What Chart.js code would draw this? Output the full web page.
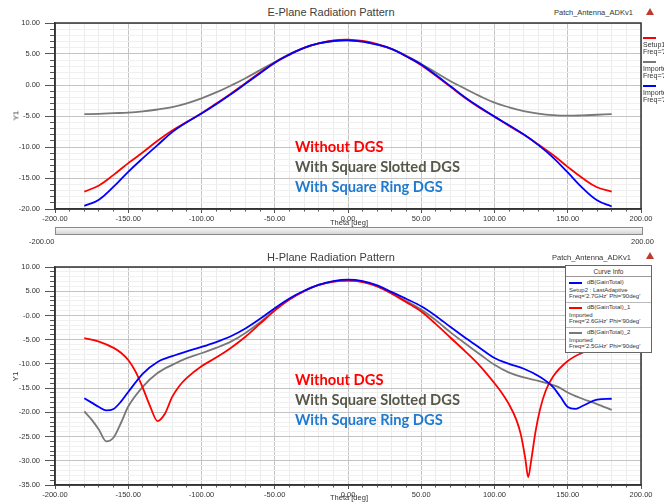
<!DOCTYPE html>
<html>
<head>
<meta charset="utf-8">
<script src="https://cdn.jsdelivr.net/npm/chart.js@4.4.0/dist/chart.umd.min.js"></script>
<style>
  body { margin: 0; width: 664px; height: 504px; overflow: hidden; background: #fff; position: relative;
         font-family: "Liberation Sans", Arial, sans-serif; color: #333; }
  .abs { position: absolute; white-space: nowrap; }
  .box { position: absolute; }
  .note { position: absolute; white-space: nowrap; font-family: Lato, "Open Sans", sans-serif; font-weight: bold;
          font-size: 14.7px; line-height: 18px; }
  .sm { position: absolute; white-space: nowrap; font-size: 6px; line-height: 7px; color: #333; }
  .cut { position: absolute; white-space: nowrap; font-size: 7px; line-height: 7px; color: #333; }
  .sw { position: absolute; height: 2px; width: 13px; }
  .logo { position: absolute; width: 0; height: 0; border-left: 4px solid transparent; border-right: 4px solid transparent;
          border-bottom: 7px solid #c0392b; }
</style>
</head>
<body>

<!-- E-plane -->
<div class="abs" style="left:231px;top:5px;width:200px;text-align:center;font-size:11px;line-height:14px;color:#404040">E-Plane Radiation Pattern</div>
<div class="abs" style="left:554px;top:8px;font-size:7.5px;line-height:9px">Patch_Antenna_ADKv1</div>
<div class="logo" style="left:646px;top:8px"></div>
<div class="box" style="left:0;top:0;width:664px;height:232px"><canvas id="cE"></canvas></div>
<div class="abs" style="left:11px;top:111px;font-size:8px;transform:rotate(-90deg)">Y1</div>
<div class="abs" style="left:299px;top:218px;width:100px;text-align:center;font-size:7.5px;line-height:9px">Theta [deg]</div>

<!-- legend cut at the right edge -->
<div class="sw" style="left:643px;top:37px;background:#ff0000"></div>
<div class="cut" style="left:643px;top:41px">Setup1 : LastAdaptive</div>
<div class="cut" style="left:643px;top:48px">Freq='2.6GHz' Phi='0deg'</div>
<div class="sw" style="left:643px;top:61px;background:#787878"></div>
<div class="cut" style="left:643px;top:65px">Imported</div>
<div class="cut" style="left:643px;top:72px">Freq='2.5GHz' Phi='0deg'</div>
<div class="sw" style="left:643px;top:85px;background:#0000ff"></div>
<div class="cut" style="left:643px;top:89px">Imported</div>
<div class="cut" style="left:643px;top:96px">Freq='2.7GHz' Phi='0deg'</div>

<div class="note" style="left:295px;top:137px;color:#ff0000">Without DGS</div>
<div class="note" style="left:295px;top:157px;color:#57574a">With Square Slotted DGS</div>
<div class="note" style="left:295px;top:177px;color:#1f7ad0">With Square Ring DGS</div>

<!-- scroll bar -->
<div class="box" style="left:55px;top:227px;width:586px;height:6px;border:1px solid #8a8a8a;background:linear-gradient(#f6f6f6,#d6d6d6)"></div>
<div class="abs" style="left:29px;top:237px;font-size:7.5px;line-height:9px">-200.00</div>
<div class="abs" style="left:631px;top:237px;font-size:7.5px;line-height:9px">200.00</div>

<!-- H-plane -->
<div class="abs" style="left:231px;top:250px;width:200px;text-align:center;font-size:11px;line-height:14px;color:#404040">H-Plane Radiation Pattern</div>
<div class="abs" style="left:552px;top:253px;font-size:7.5px;line-height:9px">Patch_Antenna_ADKv1</div>
<div class="logo" style="left:646px;top:252px"></div>
<div class="box" style="left:0;top:250px;width:664px;height:254px"><canvas id="cH"></canvas></div>
<div class="abs" style="left:11px;top:372px;font-size:8px;transform:rotate(-90deg)">Y1</div>
<div class="abs" style="left:299px;top:493px;width:100px;text-align:center;font-size:7.5px;line-height:9px">Theta [deg]</div>

<div class="box" style="left:565px;top:265px;width:85px;height:86px;border:1px solid #666;background:#fff">
  <div class="sm" style="left:0;top:2px;width:85px;text-align:center;font-size:6.5px">Curve Info</div>
  <div class="box" style="left:0;top:10px;width:85px;height:0;border-top:1px solid #999"></div>
  <div class="sw" style="left:3px;top:16px;background:#0000ff"></div>
  <div class="sm" style="left:21px;top:13px">dB(GainTotal)</div>
  <div class="sm" style="left:3px;top:21px">Setup2 : LastAdaptive</div>
  <div class="sm" style="left:3px;top:27px">Freq='2.7GHz' Phi='90deg'</div>
  <div class="box" style="left:0;top:36px;width:85px;height:0;border-top:1px solid #bbb"></div>
  <div class="sw" style="left:3px;top:41px;background:#ff0000"></div>
  <div class="sm" style="left:21px;top:38px">dB(GainTotal)_1</div>
  <div class="sm" style="left:3px;top:46px">Imported</div>
  <div class="sm" style="left:3px;top:52px">Freq='2.6GHz' Phi='90deg'</div>
  <div class="box" style="left:0;top:61px;width:85px;height:0;border-top:1px solid #bbb"></div>
  <div class="sw" style="left:3px;top:66px;background:#787878"></div>
  <div class="sm" style="left:21px;top:63px">dB(GainTotal)_2</div>
  <div class="sm" style="left:3px;top:71px">Imported</div>
  <div class="sm" style="left:3px;top:77px">Freq='2.5GHz' Phi='90deg'</div>
</div>

<div class="note" style="left:295px;top:370px;color:#ff0000">Without DGS</div>
<div class="note" style="left:295px;top:390px;color:#57574a">With Square Slotted DGS</div>
<div class="note" style="left:295px;top:410px;color:#1f7ad0">With Square Ring DGS</div>

<script>
// E-plane (Phi = 0deg)
const eTheta = [-180, -170, -160, -150, -140, -130, -120, -110, -100, -90, -80, -70, -60, -50, -40, -30, -20, -10, 0,
                10, 20, 30, 40, 50, 60, 70, 80, 90, 100, 110, 120, 130, 140, 150, 160, 170, 180];
const eWithout = [-17.2, -16.2, -14.5, -12.6, -10.85, -9.0, -7.35, -5.95, -4.55, -3.0, -1.4, 0.3, 2.0, 3.6, 4.9, 6.0, 6.7, 7.2, 7.3,
                  7.1, 6.6, 5.8, 4.6, 3.2, 1.5, -0.3, -2.1, -3.7, -5.1, -6.6, -8.0, -9.6, -11.3, -13.2, -15.0, -16.5, -17.2];
const eSlotted = [-4.7, -4.65, -4.55, -4.45, -4.25, -3.95, -3.55, -2.95, -2.15, -1.2, -0.1, 1.1, 2.4, 3.7, 5.0, 6.0, 6.7, 7.1, 7.2,
                  7.0, 6.5, 5.8, 4.7, 3.4, 2.0, 0.6, -0.6, -1.8, -2.85, -3.6, -4.2, -4.6, -4.85, -4.95, -4.9, -4.8, -4.7];
const eRing = [-19.5, -18.5, -16.4, -14.0, -11.8, -9.7, -7.6, -6.0, -4.6, -3.1, -1.5, 0.2, 1.9, 3.6, 4.9, 6.0, 6.7, 7.1, 7.2,
               7.0, 6.5, 5.8, 4.6, 3.3, 1.6, -0.2, -2.0, -3.6, -5.1, -6.5, -8.0, -9.7, -11.7, -14.1, -16.6, -18.6, -19.6];

// H-plane (Phi = 90deg)
const hTheta = [-180, -175, -170, -165, -160, -155, -150, -140, -130, -120, -110, -100, -90, -80, -70, -60, -50, -40, -30, -20, -10, 0,
                10, 20, 30, 40, 50, 60, 70, 80, 90, 100, 110, 120, 130, 140, 145, 150, 155, 160, 170, 180];
const hRing = [-17.1, -18.0, -18.9, -19.6, -19.3, -17.8, -15.8, -12.0, -9.6, -8.4, -7.4, -6.5, -5.5, -4.3, -2.7, -0.7, 1.5, 3.5, 5.1, 6.3, 7.1, 7.4,
               7.1, 6.2, 4.8, 3.4, 1.9, -0.1, -2.4, -4.6, -6.7, -8.8, -10.0, -11.0, -12.5, -14.8, -16.8, -18.9, -19.3, -18.7, -17.4, -17.2];
const hSlotted = [-19.8, -21.5, -23.6, -26.0, -25.2, -22.2, -18.8, -14.7, -11.9, -10.2, -8.8, -7.8, -6.7, -5.4, -3.6, -1.4, 1.1, 3.3, 5.0, 6.3, 7.0, 7.2,
                  7.0, 6.0, 4.5, 2.9, 1.2, -1.0, -3.5, -5.8, -8.0, -10.2, -11.8, -12.8, -13.5, -14.4, -15.0, -15.9, -16.6, -17.2, -18.3, -19.5];
const hWithoutTheta = [-180, -170, -160, -155, -150, -145, -140, -135, -130, -125, -120, -115, -110, -100, -90, -80, -70, -60, -50, -40, -30, -20, -10, 0,
                       10, 20, 30, 40, 50, 60, 70, 80, 90, 100, 105, 110, 115, 118, 121, 123, 125, 128, 131, 135, 140, 150, 160, 170, 180];
const hWithout = [-4.7, -5.4, -6.7, -7.7, -9.2, -11.6, -15.0, -18.8, -21.8, -20.3, -16.8, -14.5, -12.9, -10.5, -8.7, -6.7, -4.4, -1.7, 1.0, 3.3, 5.0, 6.3, 7.0, 7.2,
                  6.9, 6.0, 4.5, 2.7, 0.8, -1.8, -4.6, -7.4, -10.4, -14.0, -16.0, -18.4, -21.6, -24.6, -29.5, -33.4, -30.0, -24.0, -19.5, -15.5, -12.6, -9.4, -7.7, -6.7, -6.1];

const RED = '#ff0000', GRAY = '#787878', BLUE = '#0000ff';

const pts = (t, v) => t.map((x, i) => ({x: x, y: v[i]}));

function line(label, data, color, mode) {
    return {label: label, data: data, borderColor: color, borderWidth: 1.8, pointRadius: 0,
            fill: false, tension: 0.4, cubicInterpolationMode: mode};
}

const frame = {
    id: 'frame',
    afterDraw(c) {
        const a = c.chartArea, g = c.ctx;
        g.save();
        g.strokeStyle = '#333';
        g.lineWidth = 1.5;
        g.strokeRect(a.left, a.top, a.right - a.left, a.bottom - a.top);
        g.restore();
    }
};

const isMajor = (v, step) => Math.abs(Math.round(v) % step) === 0;

function options(yMin, yMax, xHeight, top, zeroLabel) {
    return {
        animation: false,
        responsive: true,
        maintainAspectRatio: false,
        layout: {padding: {left: 0, right: 23, top: top, bottom: 0}},
        plugins: {legend: {display: false}, tooltip: {enabled: false}},
        scales: {
            x: {
                type: 'linear', min: -200, max: 200,
                afterFit: s => { s.height = xHeight; },
                ticks: {stepSize: 10, autoSkip: false, maxRotation: 0, padding: 1, color: '#333',
                        font: {family: 'Liberation Sans', size: 7.5},
                        callback: v => isMajor(v, 50) ? v.toFixed(2) : ''},
                grid: {tickLength: 4, tickColor: '#555',
                       color: c => isMajor(c.tick.value, 50) ? '#c4c4c4' : '#ebebeb',
                       tickBorderDash: c => isMajor(c.tick.value, 50) ? [] : [2, 10]},
                border: {color: '#333', width: 1.5}
            },
            y: {
                min: yMin, max: yMax,
                afterFit: s => { s.width = 55; },
                ticks: {stepSize: 1, autoSkip: false, padding: 5, color: '#333',
                        font: {family: 'Liberation Sans', size: 7.5},
                        callback: v => isMajor(v, 5) ? (v === 0 ? zeroLabel : v.toFixed(2)) : ''},
                grid: {tickLength: 10, tickColor: '#555',
                       color: c => isMajor(c.tick.value, 5) ? '#c4c4c4' : '#f0f0f0',
                       tickBorderDash: c => isMajor(c.tick.value, 5) ? [] : [0, 5, 5, 0]},
                border: {color: '#333', width: 1.5}
            }
        }
    };
}

new Chart(document.getElementById('cE'), {
    type: 'line',
    data: {datasets: [
        line('With Square Ring DGS', pts(eTheta, eRing), BLUE, 'default'),
        line('Without DGS', pts(eTheta, eWithout), RED, 'default'),
        line('With Square Slotted DGS', pts(eTheta, eSlotted), GRAY, 'default')
    ]},
    options: options(-20, 10, 23, 23, '0.00'),
    plugins: [frame]
});

new Chart(document.getElementById('cH'), {
    type: 'line',
    data: {datasets: [
        line('With Square Ring DGS', pts(hTheta, hRing), BLUE, 'monotone'),
        line('Without DGS', pts(hWithoutTheta, hWithout), RED, 'monotone'),
        line('With Square Slotted DGS', pts(hTheta, hSlotted), GRAY, 'monotone')
    ]},
    options: options(-35, 10, 19, 17, '-0.00'),
    plugins: [frame]
});
</script>
</body>
</html>
